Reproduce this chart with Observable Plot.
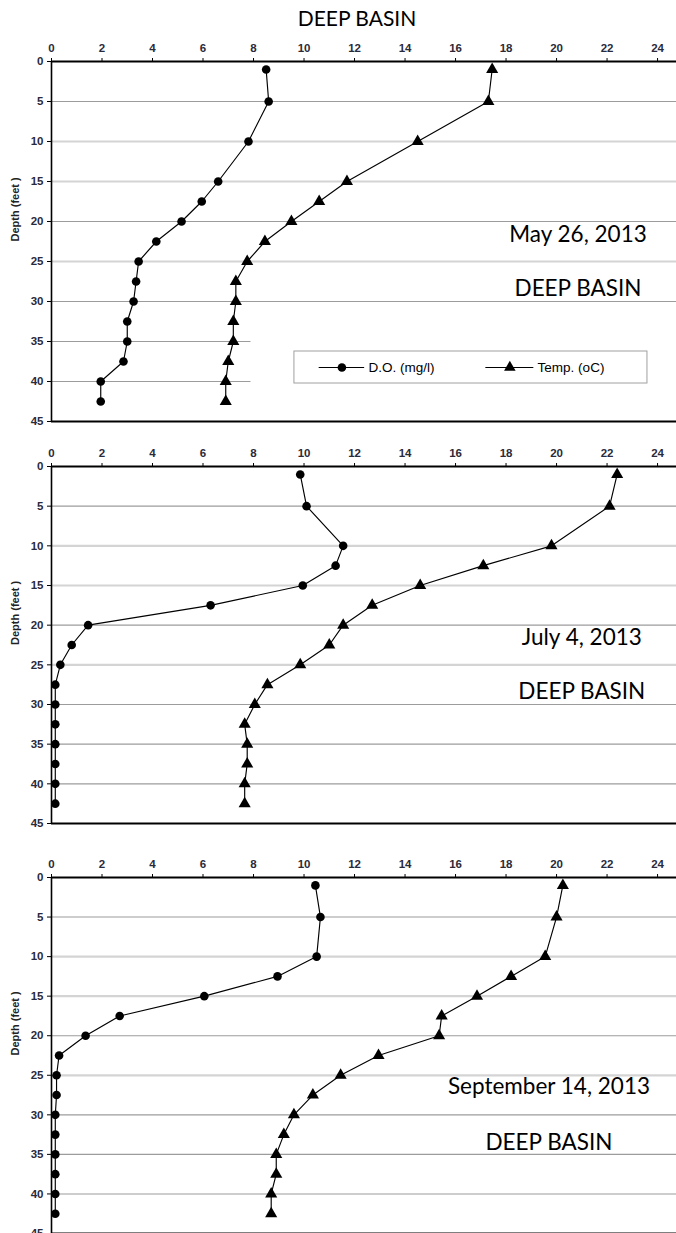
<!DOCTYPE html>
<html>
<head>
<meta charset="utf-8">
<script src="https://cdn.jsdelivr.net/npm/d3@7"></script>
<script src="https://cdn.jsdelivr.net/npm/@observablehq/plot@0.6"></script>
<style>
  html, body { margin: 0; padding: 0; background: #fff; }
  #page { position: relative; width: 676px; height: 1233px; overflow: hidden; }
  .title { position: absolute; left: 0; top: 5px; width: 676px; padding-left: 38px; box-sizing: border-box;
           text-align: center; font-family: Lato, "Open Sans", sans-serif; font-size: 21px; line-height: 26px; color: #000; }
  .panel { position: absolute; left: 0; }
</style>
</head>
<body>
<div id="page">
  <div class="title">DEEP BASIN</div>
  <div class="panel" id="p1" style="top:28px"></div>
  <div class="panel" id="p2" style="top:436px"></div>
  <div class="panel" id="p3" style="top:847px"></div>
</div>
<script>
// ---------- data ----------
const xTicks = [0, 2, 4, 6, 8, 10, 12, 14, 16, 18, 20, 22, 24];
const yTicks = [0, 5, 10, 15, 20, 25, 30, 35, 40, 45];
const seriesNames = ["D.O. (mg/l)", "Temp. (oC)"];
const dates = ["May 26, 2013", "July 4, 2013", "September 14, 2013"];
const basinLabel = "DEEP BASIN";
const yLabel = "Depth (feet )";

const depthMay = [1, 5, 10, 15, 17.5, 20, 22.5, 25, 27.5, 30, 32.5, 35, 37.5, 40, 42.5];
const doMay    = [8.5, 8.6, 7.8, 6.6, 5.95, 5.15, 4.15, 3.45, 3.35, 3.25, 3.0, 3.0, 2.85, 1.95, 1.95];
const tempMay  = [17.45, 17.3, 14.5, 11.7, 10.6, 9.5, 8.45, 7.75, 7.3, 7.3, 7.2, 7.2, 7.0, 6.9, 6.9];

const depthJul = [1, 5, 10, 12.5, 15, 17.5, 20, 22.5, 25, 27.5, 30, 32.5, 35, 37.5, 40, 42.5];
const doJul    = [9.85, 10.1, 11.55, 11.25, 9.95, 6.3, 1.45, 0.8, 0.35, 0.15, 0.15, 0.15, 0.15, 0.15, 0.15, 0.15];
const tempJul  = [22.4, 22.1, 19.8, 17.1, 14.6, 12.7, 11.55, 11.0, 9.85, 8.55, 8.05, 7.65, 7.75, 7.75, 7.65, 7.65];

const depthSep = [1, 5, 10, 12.5, 15, 17.5, 20, 22.5, 25, 27.5, 30, 32.5, 35, 37.5, 40, 42.5];
const doSep    = [10.45, 10.65, 10.5, 8.95, 6.05, 2.7, 1.35, 0.3, 0.2, 0.2, 0.15, 0.15, 0.15, 0.15, 0.15, 0.15];
const tempSep  = [20.25, 20.0, 19.55, 18.2, 16.85, 15.45, 15.35, 12.95, 11.45, 10.35, 9.6, 9.2, 8.9, 8.9, 8.7, 8.7];

const gridDepths = [5, 10, 15, 20, 25, 30, 35, 40];

// ---------- drawing ----------
const tickFont = "'Liberation Sans', Arial, sans-serif";
const noteFont = "Lato, 'Open Sans', sans-serif";
const XMAX = 24.75;

function panel(el, cfg) {
  const doData = cfg.depth.map((d, i) => ({depth: d, v: cfg.doVals[i]}));
  const tData = cfg.depth.map((d, i) => ({depth: d, v: cfg.tempVals[i]}));
  const grid = gridDepths.map(g => ({g, x2: (cfg.legend && g >= 35) ? 7.9 : XMAX,
                                      light: g === 10 || g === 15 || g === 25}));
  const marks = [
    Plot.ruleY(grid.filter(d => d.light), {y: "g", x1: 0, x2: "x2", stroke: "#d4d4d4", strokeWidth: 2.2}),
    Plot.ruleY(grid.filter(d => !d.light), {y: "g", x1: 0, x2: "x2", stroke: "#9c9c9c", strokeWidth: 1.1}),
    Plot.axisX({anchor: "top", ticks: xTicks, tickSize: 4, tickPadding: 6, label: null,
                fontSize: 11.5, fontWeight: "bold", fill: "#2a2a3a"}),
    Plot.axisY({anchor: "left", ticks: yTicks, tickSize: 4, tickPadding: 4, label: null,
                fontSize: 11.5, fontWeight: "bold", fill: "#2a2a3a"}),
    Plot.ruleY([0, 45], {stroke: "#000", strokeWidth: 2}),
    Plot.ruleX([0], {stroke: "#000", strokeWidth: 1.6}),
    Plot.text([yLabel], {frameAnchor: "left", y: 22.5, dx: -36, rotate: -90, fontSize: 11,
                         fontWeight: "bold", fill: "#222", fontFamily: tickFont}),
    Plot.line(doData, {x: "v", y: "depth", stroke: "#000", strokeWidth: 1.15}),
    Plot.dot(doData, {x: "v", y: "depth", r: 4.3, fill: "#000", symbol: "circle"}),
    Plot.line(tData, {x: "v", y: "depth", stroke: "#000", strokeWidth: 1.15}),
    Plot.dot(tData, {x: "v", y: "depth", r: 4.5, fill: "#000", symbol: "triangle"}),
    Plot.text([cfg.date], {x: cfg.noteX, y: cfg.dateY, fontSize: 22.5, fontFamily: noteFont, fill: "#000"}),
    Plot.text([basinLabel], {x: cfg.noteX, y: cfg.basinY, fontSize: 22.5, fontFamily: noteFont, fill: "#000"})
  ];
  if (cfg.legend) {
    const leg = [
      {name: seriesNames[0], x1: 10.6, x2: 12.4, tx: 12.55, sym: "circle"},
      {name: seriesNames[1], x1: 17.2, x2: 19.1, tx: 19.25, sym: "triangle"}
    ];
    marks.push(
      Plot.rect([0], {x1: 9.62, x2: 23.6, y1: 36.25, y2: 40.25, fill: "#fff", stroke: "#a0a0a0", strokeWidth: 1}),
      Plot.ruleY(leg, {y: 38.25, x1: "x1", x2: "x2", stroke: "#000", strokeWidth: 1.2}),
      Plot.dot(leg, {x: d => (d.x1 + d.x2) / 2, y: 38.25, symbol: "sym", r: 4.3, fill: "#000"}),
      Plot.text(leg, {x: "tx", y: 38.25, text: "name", textAnchor: "start", fontSize: 13.5,
                      fontFamily: tickFont, fill: "#000"})
    );
  }
  const chart = Plot.plot({
    width: 676,
    height: cfg.marginTop + cfg.plotH + cfg.marginBottom,
    marginLeft: 51, marginRight: 0,
    marginTop: cfg.marginTop, marginBottom: cfg.marginBottom,
    x: {domain: [0, XMAX]},
    y: {domain: [0, 45], reverse: true},
    symbol: {type: "identity"},
    style: {fontFamily: tickFont, background: "transparent", overflow: "visible"},
    marks
  });
  document.getElementById(el).appendChild(chart);
}

panel("p1", {depth: depthMay, doVals: doMay, tempVals: tempMay, date: dates[0],
             noteX: 20.85, dateY: 21.6, basinY: 28.4, legend: true,
             marginTop: 33, plotH: 360, marginBottom: 15});
panel("p2", {depth: depthJul, doVals: doJul, tempVals: tempJul, date: dates[1],
             noteX: 21.0, dateY: 21.6, basinY: 28.4, legend: false,
             marginTop: 30, plotH: 357, marginBottom: 24});
panel("p3", {depth: depthSep, doVals: doSep, tempVals: tempSep, date: dates[2],
             noteX: 19.7, dateY: 26.4, basinY: 33.5, legend: false,
             marginTop: 30, plotH: 356, marginBottom: 0});
</script>
</body>
</html>
